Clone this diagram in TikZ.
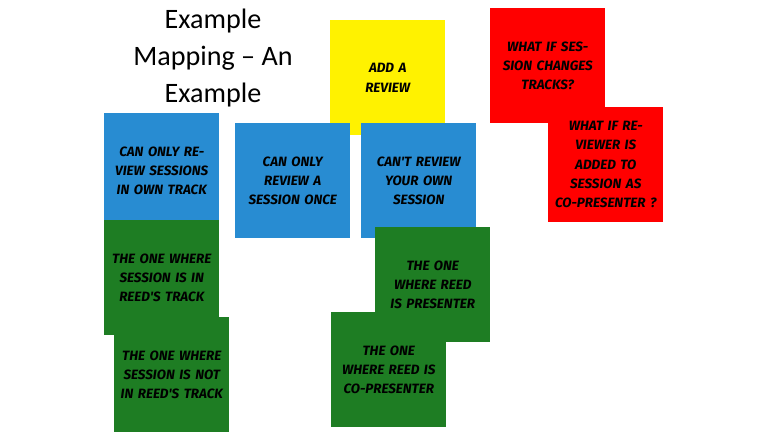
\documentclass[tikz,border=0pt]{standalone}
\usepackage{fontspec}
\setmainfont{Carlito}
\newfontfamily\notefont{Fira Sans}
\begin{document}
\begin{tikzpicture}[x=0.03cm,y=-0.03cm,
  note/.style={minimum width=3.45cm,minimum height=3.45cm,text width=3.1cm,align=center,
    font=\notefont\bfseries\itshape\fontsize{11.5}{16.5}\selectfont,anchor=north west,inner sep=0pt,
    drop shadow/.try},
  yel/.style={note,fill=yellow},
  redn/.style={note,fill=red},
  blu/.style={note,fill={rgb,255:red,40;green,140;blue,210}},
  grn/.style={note,fill={rgb,255:red,30;green,125;blue,35}}]
\useasboundingbox (0,0) rectangle (768,432);
\node[align=center,font=\fontsize{24}{32}\selectfont] (title) at (213,58) {Example\\Mapping -- An\\Example};
\node[yel] (add) at (330,20) {ADD A\\REVIEW};
\node[redn] (r1) at (490,8) {WHAT IF SESSION CHANGES TRACKS?};
\node[redn] (r2) at (548,107) {WHAT IF REVIEWER IS ADDED TO SESSION AS CO-PRESENTER ?};
\node[blu] (b1) at (104,113) {CAN ONLY REVIEW SESSIONS IN OWN TRACK};
\node[blu] (b2) at (235,123) {CAN ONLY REVIEW A SESSION ONCE};
\node[blu] (b3) at (361,123) {CAN'T REVIEW YOUR OWN SESSION};
\node[grn] (g1) at (104,220) {THE ONE WHERE SESSION IS IN REED'S TRACK};
\node[grn] (g2) at (114,317) {THE ONE WHERE SESSION IS NOT IN REED'S TRACK};
\node[grn] (g3) at (375,227) {THE ONE WHERE REED IS PRESENTER};
\node[grn] (g4) at (331,312) {THE ONE WHERE REED IS CO-PRESENTER};
\end{tikzpicture}
\end{document}
